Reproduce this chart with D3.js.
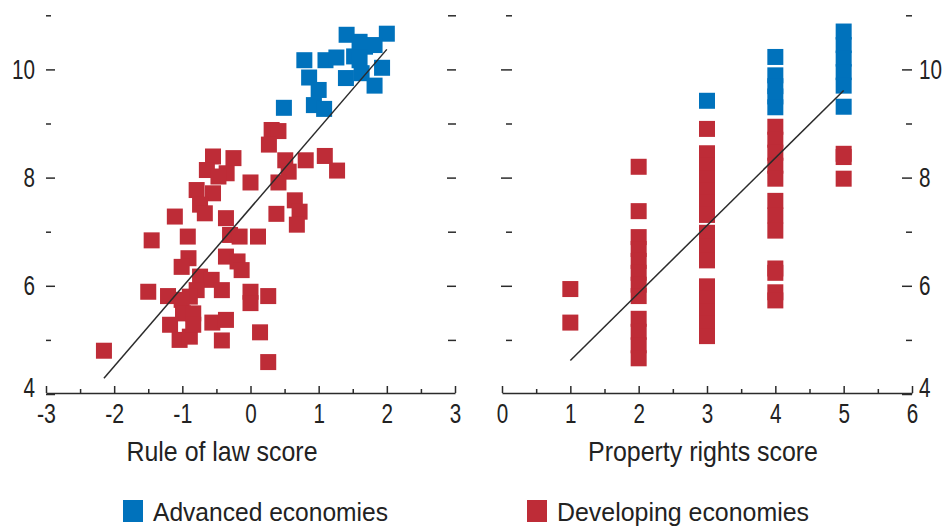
<!DOCTYPE html>
<html>
<head>
<meta charset="utf-8">
<script src="https://cdn.jsdelivr.net/npm/d3@7"></script>
<style>
    body { margin: 0; background: #ffffff; }
    #drawing_region { font-family: 'Liberation Sans', Arial, sans-serif; }
</style>
</head>
<body>
<svg id="drawing_region"></svg>
<script>
// rule of law score vs log income, [score, value]
const law_advanced = [
    [1.41,10.64],[2.00,10.66],[0.79,10.17],[1.10,10.17],[1.26,10.22],[1.68,10.42],
    [1.82,10.45],[1.52,10.24],[1.60,10.17],[1.60,10.51],[1.93,10.03],[1.82,9.70],
    [1.40,9.84],[1.63,9.93],[0.86,9.85],[1.00,9.62],[0.93,9.34],[1.08,9.27],[0.49,9.29]
];
const law_developing = [
    [0.31,8.88],[0.41,8.86],[0.27,8.61],[-0.55,8.39],[-0.25,8.36],[-0.64,8.14],
    [-0.35,8.08],[-0.47,8.02],[0.00,7.91],[0.51,8.32],[0.56,8.11],[0.41,7.91],
    [0.81,8.32],[1.09,8.40],[1.27,8.13],[0.65,7.58],[0.72,7.37],[0.68,7.13],
    [0.38,7.33],[-0.79,7.77],[-0.55,7.71],[-0.74,7.50],[-0.67,7.34],[-1.11,7.28],
    [-0.36,7.25],[-0.92,6.91],[-1.45,6.84],[-0.30,6.94],[-0.16,6.91],[0.11,6.91],
    [-0.36,6.54],[-0.19,6.45],[-0.13,6.29],[-0.91,6.51],[-1.01,6.35],[-1.50,5.89],
    [-1.21,5.81],[-0.74,6.17],[-0.57,6.11],[-0.42,5.92],[-0.79,5.92],[-0.89,5.80],
    [-1.01,5.74],[-0.99,5.49],[-0.84,5.49],[-1.18,5.28],[-1.04,5.00],[-0.89,5.06],
    [-0.84,5.28],[-0.56,5.32],[-0.36,5.37],[-0.42,4.99],[0.00,5.89],[0.00,5.68],
    [0.26,5.81],[0.14,5.14],[0.26,4.59],[-2.15,4.80]
];
const law_fit = [[-2.15,4.29],[2.00,10.37]];

// property rights score vs log income, [score, value]
const prop_advanced = [
    [3,9.42],
    [4,10.23],[4,9.89],[4,9.69],[4,9.50],[4,9.30],
    [5,10.70],[5,10.45],[5,10.20],[5,9.95],[5,9.70],[5,9.31]
];
const prop_developing = [
    [1,5.94],[1,5.32],
    [2,8.20],[2,7.38],[2,6.90],[2,6.68],[2,6.46],[2,6.24],[2,6.02],[2,5.81],
    [2,5.39],[2,5.15],[2,4.90],[2,4.66],
    [3,8.90],[3,8.45],[3,8.22],[3,7.99],[3,7.77],[3,7.54],[3,7.31],
    [3,6.98],[3,6.72],[3,6.47],[3,5.99],[3,5.76],[3,5.53],[3,5.30],[3,5.07],
    [4,8.94],[4,8.70],[4,8.46],[4,8.22],[4,7.98],[4,7.57],[4,7.30],[4,7.02],
    [4,6.32],[4,6.24],[4,5.88],[4,5.73],
    [5,8.44],[5,8.38],[5,7.98]
];
const prop_fit = [[1,4.62],[5,9.61]];

const y_major = [4, 6, 8, 10];
const y_minor = [5, 7, 9, 11];
const law_ticks = [-3, -2, -1, 0, 1, 2, 3];
const law_minor = [-2.5, -1.5, -0.5, 0.5, 1.5, 2.5];
const prop_ticks = [0, 1, 2, 3, 4, 5, 6];
const prop_minor = [0.5, 1.5, 2.5, 3.5, 4.5, 5.5];

const series_names = ["Advanced economies", "Developing economies"];
const series_colors = ["#0072bc", "#be2c37"];

// squeeze text to a condensed look
function condense( sel, width ) {
    sel.attr('textLength', width)
        .attr('lengthAdjust', 'spacingAndGlyphs');
}
function label_width( s ) {
    return s.split('').reduce( (w, ch) => w + (ch === '-' ? 7.5 : 11.5), 0 );
}

class ScatterPanel {

    constructor( config, advanced, developing, fit ) {
        this.config = config;
        this.advanced = advanced;
        this.developing = developing;
        this.fit = fit;
        this.init();
    }

    init() {
        let self = this;
        const c = self.config;

        self.svg = d3.select( c.parent );
        self.chart = self.svg.append('g');

        self.xscale = d3.scaleLinear()
            .domain( c.xdomain )
            .range( [c.left, c.right] );

        self.yscale = d3.scaleLinear()
            .domain( [4, 11] )
            .range( [394, 15.3] );

        self.points_group = self.chart.append('g');
        self.line_group = self.chart.append('g');
        self.axes_group = self.chart.append('g');
    }

    render() {
        let self = this;
        const c = self.config;
        const size = 16;

        const groups = [self.advanced, self.developing];
        groups.forEach( (data, i) => {
            self.points_group.append('g')
                .selectAll('rect')
                .data(data)
                .enter()
                .append('rect')
                .attr('x', d => self.xscale(d[0]) - size / 2)
                .attr('y', d => self.yscale(d[1]) - size / 2)
                .attr('width', size)
                .attr('height', size)
                .style('fill', series_colors[i]);
        });

        self.line_group.append('line')
            .attr('x1', self.xscale(self.fit[0][0]))
            .attr('y1', self.yscale(self.fit[0][1]))
            .attr('x2', self.xscale(self.fit[1][0]))
            .attr('y2', self.yscale(self.fit[1][1]))
            .style('stroke', '#2b2b2b')
            .style('stroke-width', 1.5);

        // x axis, ticks pointing up
        const xaxis = d3.axisBottom( self.xscale )
            .tickValues( c.xticks )
            .tickSizeInner(-7)
            .tickSizeOuter(0)
            .tickPadding(11)
            .tickFormat( d => String(d) );
        self.axes_group.append('g')
            .attr('transform', `translate(0, 393)`)
            .call( xaxis );

        const xminor = d3.axisBottom( self.xscale )
            .tickValues( c.xminor )
            .tickSizeInner(-4)
            .tickSizeOuter(0)
            .tickFormat('');
        const xminor_group = self.axes_group.append('g')
            .attr('transform', `translate(0, 393)`)
            .call( xminor );
        xminor_group.select('.domain').remove();

        // y ticks on both sides of the panel
        c.yaxes.forEach( a => {
            const major = (a.side === 'left' ? d3.axisLeft( self.yscale ) : d3.axisRight( self.yscale ))
                .tickValues( a.labels ? y_major : y_major.slice(1) )
                .tickSize( a.major )
                .tickPadding( a.padding || 5 )
                .tickFormat( a.labels ? (d => String(d)) : '' );
            const g1 = self.axes_group.append('g')
                .attr('transform', `translate(${a.x}, 0)`)
                .call( major );
            g1.select('.domain').remove();
            // the bottom label sits a little above the axis line
            g1.selectAll('.tick text')
                .filter( d => d === 4 )
                .attr('dy', '0.1em');

            const minor = (a.side === 'left' ? d3.axisLeft( self.yscale ) : d3.axisRight( self.yscale ))
                .tickValues( y_minor )
                .tickSize( a.minor )
                .tickFormat('');
            const mx = a.side === 'left' ? a.x - a.major + a.minor : a.x + a.major - a.minor;
            const g2 = self.axes_group.append('g')
                .attr('transform', `translate(${mx}, 0)`)
                .call( minor );
            g2.select('.domain').remove();
        });

        self.axes_group.selectAll('.tick line, .domain')
            .style('stroke', '#2b2b2b')
            .style('stroke-width', 1.5);
        self.axes_group.selectAll('text')
            .style('font-family', 'inherit')
            .style('font-size', '27px')
            .style('fill', '#222')
            .each( function() {
                const t = d3.select(this);
                if (t.text() !== '') condense( t, label_width(t.text()) );
            });

        self.svg.append('text')
            .attr('x', c.title_x)
            .attr('y', 461)
            .attr('text-anchor', 'middle')
            .style('font-size', '28px')
            .style('fill', '#222')
            .text( c.xlabel )
            .call( condense, c.title_w );
    }
}

const svg = d3.select('#drawing_region')
    .attr('width', 951)
    .attr('height', 527);

const law_panel = new ScatterPanel({
    parent: '#drawing_region',
    xdomain: [-3, 3], left: 46, right: 455,
    xticks: law_ticks, xminor: law_minor,
    yaxes: [
        { side: 'left', x: 55, major: 9, minor: 5, labels: true, padding: 11 },
        { side: 'right', x: 447, major: 9, minor: 8, labels: false }
    ],
    xlabel: "Rule of law score", title_x: 222, title_w: 191
}, law_advanced, law_developing, law_fit);
law_panel.render();

const prop_panel = new ScatterPanel({
    parent: '#drawing_region',
    xdomain: [0, 6], left: 502, right: 912,
    xticks: prop_ticks, xminor: prop_minor,
    yaxes: [
        { side: 'right', x: 501, major: 11, minor: 6, labels: false },
        { side: 'right', x: 902, major: 10, minor: 6, labels: true, padding: 7 }
    ],
    xlabel: "Property rights score", title_x: 703, title_w: 230
}, prop_advanced, prop_developing, prop_fit);
prop_panel.render();

// legend
const legend = svg.append('g');
const legend_x = [123, 527];
const legend_w = [235, 252];
series_names.forEach( (name, i) => {
    legend.append('rect')
        .attr('x', legend_x[i])
        .attr('y', 500)
        .attr('width', 20)
        .attr('height', 22)
        .style('fill', series_colors[i]);
    legend.append('text')
        .attr('x', legend_x[i] + 30)
        .attr('y', 521)
        .style('font-size', '26px')
        .style('fill', '#222')
        .text(name)
        .call( condense, legend_w[i] );
});
</script>
</body>
</html>
